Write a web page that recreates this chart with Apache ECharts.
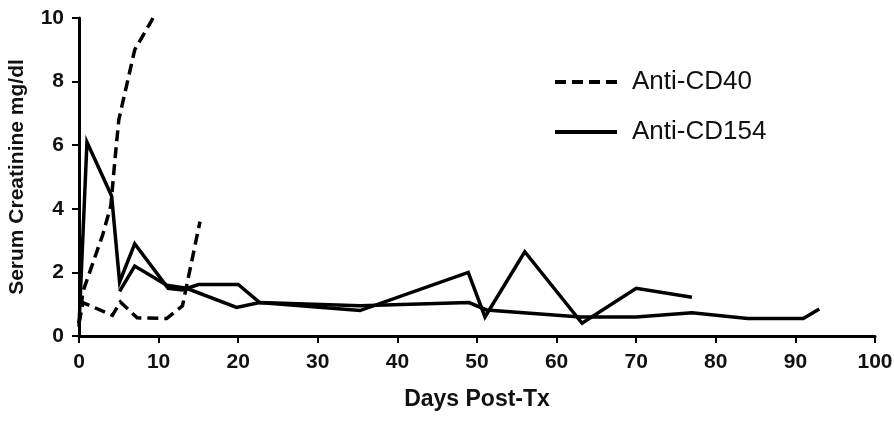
<!DOCTYPE html>
<html>
<head>
<meta charset="utf-8">
<script src="https://cdn.jsdelivr.net/npm/echarts@6/dist/echarts.min.js"></script>
<style>
  html, body { margin: 0; padding: 0; background: #fff; }
  #chart { width: 894px; height: 433px; }
</style>
</head>
<body>
<div id="chart"></div>
<script>
// days post-Tx / serum creatinine
var cd40A = [[0, 0.4], [0.5, 1.4], [3, 3.2], [4, 4.1], [4.5, 5.5], [5, 6.8], [7, 9.0], [9.3, 10]];
var cd40B = [[0, 0.4], [0.5, 1.05], [4.2, 0.65], [5.2, 1.07], [7.3, 0.57], [11, 0.55], [13, 0.95], [15.2, 3.6]];
var cd154A = [[0, 0.3], [1, 6.1], [4.1, 4.4], [5.1, 1.7], [7, 2.9], [11.2, 1.5], [13, 1.45], [15, 1.62],
              [20, 1.62], [22.7, 1.05], [35.3, 0.8], [48.9, 2.0], [51, 0.6], [56, 2.65], [63.2, 0.4],
              [70, 1.5], [77, 1.22]];
var cd154B = [[5.1, 1.4], [7, 2.2], [11, 1.6], [13.5, 1.5], [19.8, 0.9], [22.7, 1.05], [35.3, 0.95],
              [49, 1.05], [51.2, 0.82], [63, 0.6], [70, 0.6], [77, 0.73], [84, 0.55], [91, 0.55], [93, 0.85]];
var legendNames = ['Anti-CD40', 'Anti-CD154'];

var chart = echarts.init(document.getElementById('chart'));
var fontName = '"Liberation Sans Narrow", "Liberation Sans", Arial, sans-serif';

function mkSeries(name, data, dashed) {
    return {
        name: name,
        type: 'line',
        data: data,
        symbol: 'none',
        animation: false,
        lineStyle: {
            color: '#000',
            width: 3.5,
            type: dashed ? [11, 6] : 'solid',
            join: 'miter'
        },
        itemStyle: { color: '#000' }
    };
}

var option = {
    backgroundColor: '#fff',
    grid: { left: 79, right: 19, top: 18, bottom: 97, containLabel: false, outerBoundsMode: 'none' },
    legend: {
        data: legendNames,
        orient: 'vertical',
        left: 548,
        top: 64,
        itemGap: 24,
        itemWidth: 62,
        itemHeight: 14,
        itemStyle: { opacity: 0 },
        lineStyle: { width: 4 },
        textStyle: { fontFamily: 'Liberation Sans, Arial, sans-serif', fontSize: 26, color: '#111', padding: [0, 0, 0, 10] }
    },
    xAxis: {
        type: 'value',
        min: 0,
        max: 100,
        interval: 10,
        name: 'Days Post-Tx',
        nameLocation: 'middle',
        nameGap: 52,
        nameTextStyle: { fontFamily: fontName, fontWeight: 'bold', fontSize: 23, color: '#111' },
        axisLine: { lineStyle: { color: '#000', width: 3 } },
        axisTick: { show: true, length: 7, inside: false, lineStyle: { color: '#000', width: 2 } },
        axisLabel: { fontFamily: fontName, fontWeight: 'bold', fontSize: 21, color: '#111', margin: 16 },
        splitLine: { show: false }
    },
    yAxis: {
        type: 'value',
        min: 0,
        max: 10,
        interval: 2,
        name: 'Serum Creatinine mg/dl',
        nameLocation: 'middle',
        nameGap: 51,
        nameTextStyle: { fontFamily: 'Liberation Sans, Arial, sans-serif', fontWeight: 'bold', fontSize: 21, color: '#111' },
        axisLine: { show: true, lineStyle: { color: '#000', width: 3 } },
        axisTick: { show: true, length: 7, lineStyle: { color: '#000', width: 2 } },
        axisLabel: { fontFamily: fontName, fontWeight: 'bold', fontSize: 21, color: '#111', margin: 15 },
        splitLine: { show: false }
    },
    series: [
        mkSeries('Anti-CD40', cd40A, true),
        mkSeries('Anti-CD40', cd40B, true),
        mkSeries('Anti-CD154', cd154A, false),
        mkSeries('Anti-CD154', cd154B, false)
    ]
};

chart.setOption(option);
</script>
</body>
</html>
